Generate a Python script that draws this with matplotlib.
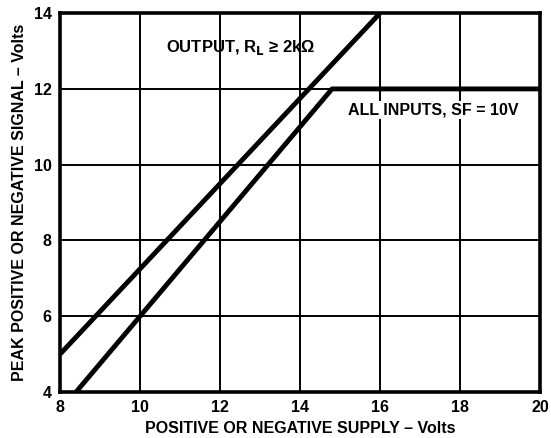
import matplotlib.pyplot as plt

# curve data
out_x = [8, 16]
out_y = [5, 14]
inp_x = [8.4, 14.8, 20]
inp_y = [4, 12, 12]
xticks = [8, 10, 12, 14, 16, 18, 20]
yticks = [4, 6, 8, 10, 12, 14]

plt.rcParams['font.family'] = ['Liberation Sans', 'DejaVu Sans']
plt.rcParams['font.weight'] = 'bold'

fig = plt.figure(figsize=(5.51, 4.38), dpi=100)
ax = fig.add_axes([0.109, 0.105, 0.871, 0.865])

ax.plot(out_x, out_y, color='black', lw=3.5, solid_capstyle='butt')
ax.plot(inp_x, inp_y, color='black', lw=3.5, solid_capstyle='butt')

ax.set_xlim(8, 20)
ax.set_ylim(4, 14)
ax.set_xticks(xticks)
ax.set_yticks(yticks)
ax.grid(True, color='black', lw=1.4)
ax.tick_params(length=0, labelsize=11.5, pad=6)
for s in ax.spines.values():
    s.set_linewidth(2.6)

ax.set_xlabel('POSITIVE OR NEGATIVE SUPPLY – Volts', fontsize=11.5, fontweight='bold', labelpad=4)
ax.set_ylabel('PEAK POSITIVE OR NEGATIVE SIGNAL – Volts', fontsize=11.5, fontweight='bold', labelpad=5)

ax.text(10.65, 13.1, r'OUTPUT, R$_\mathbf{L}$ ≥ 2kΩ', fontsize=12, fontweight='bold', va='center')
ax.text(15.2, 11.45, 'ALL INPUTS, SF = 10V', fontsize=11.5, fontweight='bold', va='center',
        bbox=dict(facecolor='white', edgecolor='none', pad=1))

fig.savefig('out.png', dpi=100)
